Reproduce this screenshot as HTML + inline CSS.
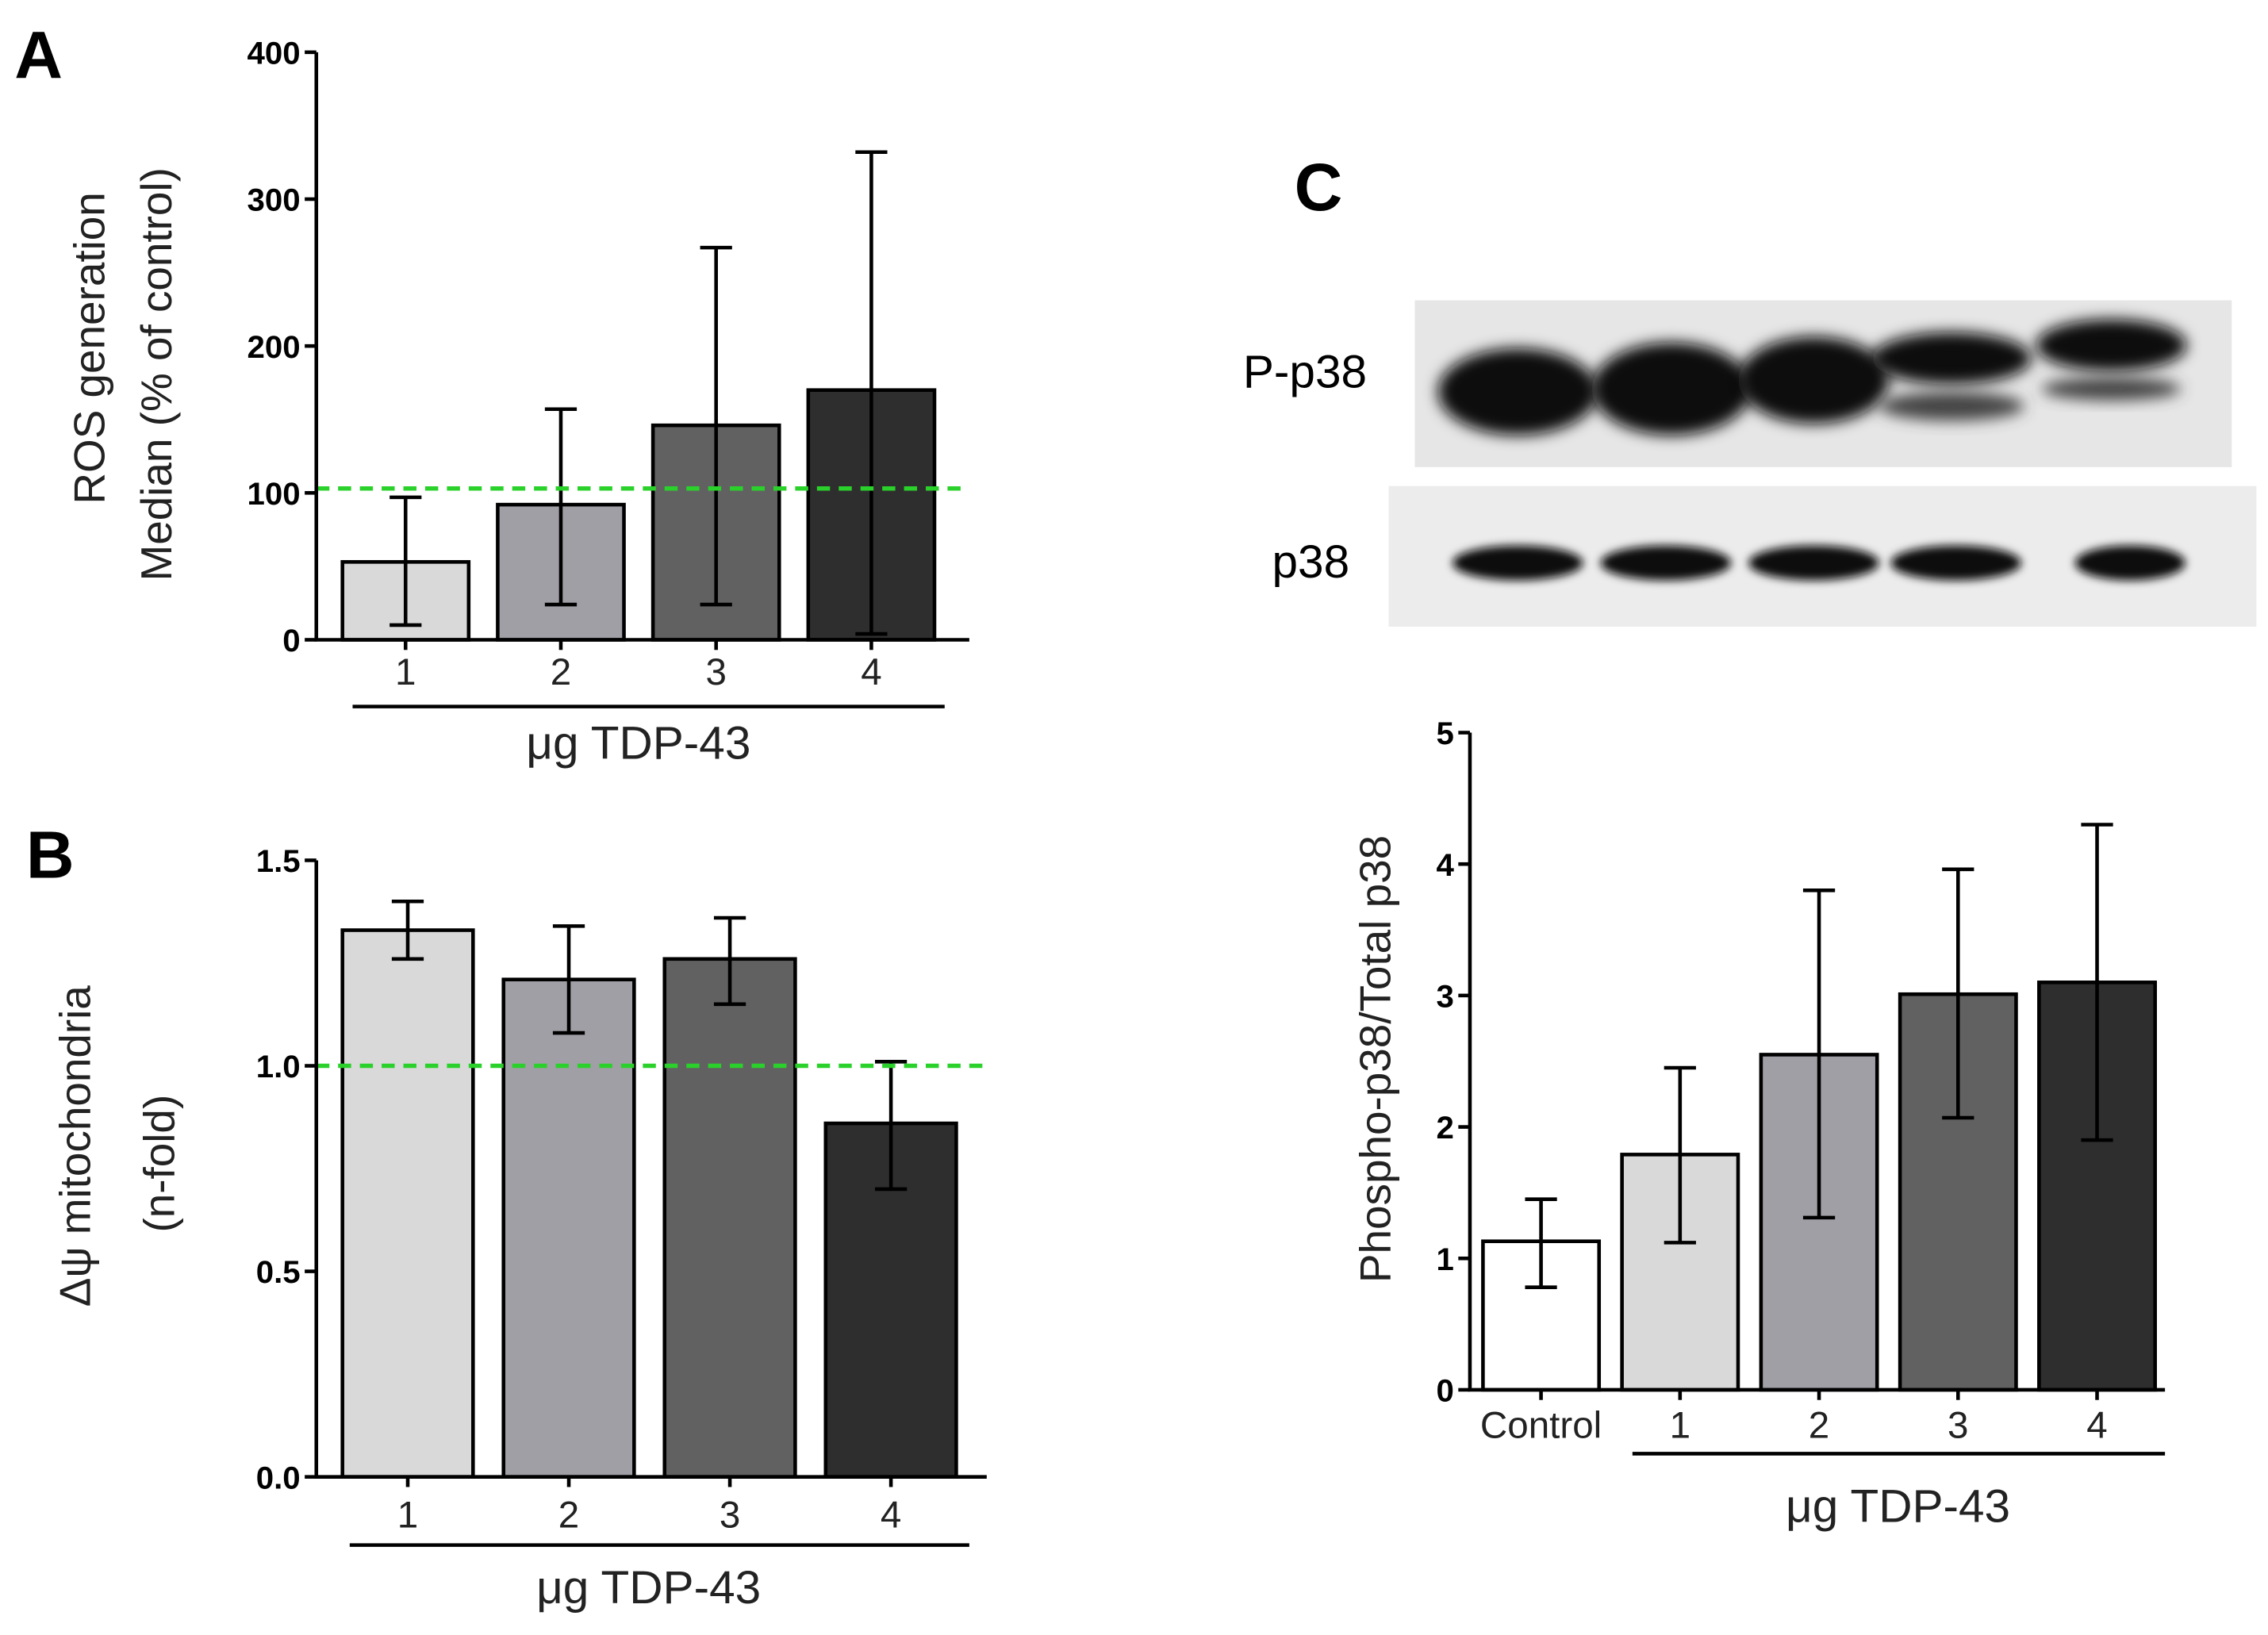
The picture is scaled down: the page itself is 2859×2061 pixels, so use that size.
<!DOCTYPE html>
<html><head><meta charset="utf-8"><style>
html,body{margin:0;padding:0;background:#fff}
svg{display:block}
text{font-family:"Liberation Sans",sans-serif}
</style></head><body>
<svg id="fig" width="2859" height="2061" viewBox="0 0 1563 1127" preserveAspectRatio="none" xmlns="http://www.w3.org/2000/svg">
<defs><filter id="bl" x="-20%" y="-50%" width="140%" height="200%"><feGaussianBlur stdDeviation="5"/></filter>
<filter id="bl2" x="-20%" y="-50%" width="140%" height="200%"><feGaussianBlur stdDeviation="3"/></filter></defs>
<g id="gA"></g>
<g id="gB"></g>
<g id="gC"></g>
</svg>
<script>
// Panel A data
const catsA = ["1","2","3","4"];
const valsA = [53, 92, 146, 170];
const loA = [10, 24, 24, 4];
const hiA = [97, 157, 267, 332];
const ticksA = [0, 100, 200, 300, 400];
const refA = 103;
// Panel B data
const catsB = ["1","2","3","4"];
const valsB = [1.33, 1.21, 1.26, 0.86];
const loB = [1.26, 1.08, 1.15, 0.70];
const hiB = [1.40, 1.34, 1.36, 1.01];
const ticksB = ["0.0","0.5","1.0","1.5"];
const refB = 1.0;
// Panel C data
const catsC = ["Control","1","2","3","4"];
const valsC = [1.13, 1.79, 2.55, 3.01, 3.10];
const loC = [0.78, 1.12, 1.31, 2.07, 1.90];
const hiC = [1.45, 2.45, 3.80, 3.96, 4.30];
const ticksC = [0,1,2,3,4,5];

const NS="http://www.w3.org/2000/svg";
function mk(p,tag,at,txt){const e=document.createElementNS(NS,tag);for(const k in at)e.setAttribute(k,at[k]);if(txt!==undefined)e.textContent=txt;p.appendChild(e);return e;}

function chart(g,o){
  const y=v=>o.y0-(v-o.vmin)/(o.vmax-o.vmin)*(o.y0-o.y1);
  const bx=i=>o.bx0+i*o.step;
  o.cats.forEach((c,i)=>{
    const r=mk(g,'rect',{x:bx(i),y:y(o.vals[i]),width:o.bw,height:y(o.vmin)-y(o.vals[i]),fill:o.colors[i],stroke:'#000','stroke-width':2.5});
    
    
    const cx=bx(i)+o.bw/2;
    const eb=mk(g,'path',{d:`M${cx},${y(o.lo[i])}V${y(o.hi[i])}M${cx-11},${y(o.lo[i])}h22M${cx-11},${y(o.hi[i])}h22`,stroke:'#000','stroke-width':2.5,fill:'none'});
    
    
    const t=mk(g,'text',{x:cx,y:o.xl,'font-size':26,'text-anchor':'middle',fill:'#222'},c);
    
    
  });
  if(o.ref!==undefined){
    const l=mk(g,'line',{x1:o.ax,x2:o.xEnd,y1:y(o.ref),y2:y(o.ref),stroke:'#2ad12a','stroke-width':3,'stroke-dasharray':'9,6'});
    
    
  }
  const ax=mk(g,'path',{d:`M${o.ax},${o.y1}V${o.y0}H${o.xEnd}`,stroke:'#000','stroke-width':2.5,fill:'none'});
  
  
  o.ticks.forEach(t=>{
    const v=parseFloat(t);
    mk(g,'line',{x1:o.ax-8,x2:o.ax,y1:y(v),y2:y(v),stroke:'#000','stroke-width':2.5});
    const tl=mk(g,'text',{x:o.ax-11,y:y(v)+8,'font-size':22,'font-weight':'bold','text-anchor':'end'},t);
    
    
  });
  o.cats.forEach((c,i)=>{const cx=bx(i)+o.bw/2;mk(g,'line',{x1:cx,x2:cx,y1:o.y0,y2:o.y0+7,stroke:'#000','stroke-width':2.5});});
  const ul=mk(g,'line',{x1:o.ul[0],x2:o.ul[1],y1:o.ul[2],y2:o.ul[2],stroke:'#000','stroke-width':2.5});
  
  
  const gt=mk(g,'text',{x:o.gt[0],y:o.gt[1],'font-size':32,'text-anchor':'middle',fill:'#222'},'μg TDP-43');
  
  
  o.ytitle.forEach(([txt,x,cy])=>{
    const e=mk(g,'text',{x:0,y:0,'font-size':30,'text-anchor':'middle',fill:'#222',transform:`translate(${x},${cy}) rotate(-90)`},txt);
    
    
  });
  const L=mk(g,'text',{x:o.letter[1],y:o.letter[2],'font-size':46,'font-weight':'bold'},o.letter[0]);
  
  
}
const grays=['#d9d9d9','#a19fa6','#616161','#2e2e2e'];
chart(document.getElementById('gA'),{cats:catsA,vals:valsA,lo:loA,hi:hiA,ticks:ticksA.map(String),ref:refA,vmin:0,vmax:400,y0:441,y1:36,ax:218,xEnd:668,bx0:236,step:107,bw:87,colors:grays,xl:472,ul:[243,651,487],gt:[440,523],ytitle:[['ROS generation',72,240],['Median (% of control)',118,258]],letter:['A',10,54]});
chart(document.getElementById('gB'),{cats:catsB,vals:valsB,lo:loB,hi:hiB,ticks:ticksB,ref:refB,vmin:0,vmax:1.5,y0:1018,y1:593,ax:218,xEnd:680,bx0:236,step:111,bw:90,colors:grays,xl:1053,ul:[241,668,1065],gt:[447,1105],ytitle:[['Δψ mitochondria',62,790],['(n-fold)',120,802]],letter:['B',18,605]});
chart(document.getElementById('gC'),{cats:catsC,vals:valsC,lo:loC,hi:hiC,ticks:ticksC.map(String),vmin:0,vmax:5,y0:958,y1:505,ax:1013,xEnd:1492,bx0:1022,step:95.8,bw:80,colors:['#ffffff'].concat(grays),xl:991,ul:[1125,1492,1002],gt:[1308,1049],ytitle:[['Phospho-p38/Total p38',958,730]],letter:['C',892,145]});

// Blots
const gC=document.getElementById('gC');
const b1=mk(gC,'g',{});


mk(b1,'rect',{x:975,y:207,width:563,height:115,fill:'#e6e6e6'});
const pLanes=[[1046,270,55,30],[1152,268,55,32],[1250,262,52,30],[1345,247,55,18],[1455,238,52,18]];
pLanes.forEach(([x,y,rx,ry],i)=>{mk(b1,'ellipse',{cx:x,cy:y,rx:rx,ry:ry,fill:'#111',filter:'url(#bl)'});});
[[1345,280,50,10],[1455,268,48,8]].forEach(([x,y,rx,ry])=>mk(b1,'ellipse',{cx:x,cy:y,rx:rx,ry:ry,fill:'#444',filter:'url(#bl)'}));
const b2=mk(gC,'g',{});


mk(b2,'rect',{x:957,y:335,width:598,height:97,fill:'#ececec'});
[1046,1148,1250,1348,1468].forEach((x,i)=>mk(b2,'ellipse',{cx:x,cy:388,rx:i==4?38:45,ry:12,fill:'#111',filter:'url(#bl2)'}));
const l1=mk(gC,'text',{x:942,y:267,'font-size':32,'text-anchor':'end'},'P-p38');


const l2=mk(gC,'text',{x:930,y:398,'font-size':32,'text-anchor':'end'},'p38');


</script>
</body></html>
